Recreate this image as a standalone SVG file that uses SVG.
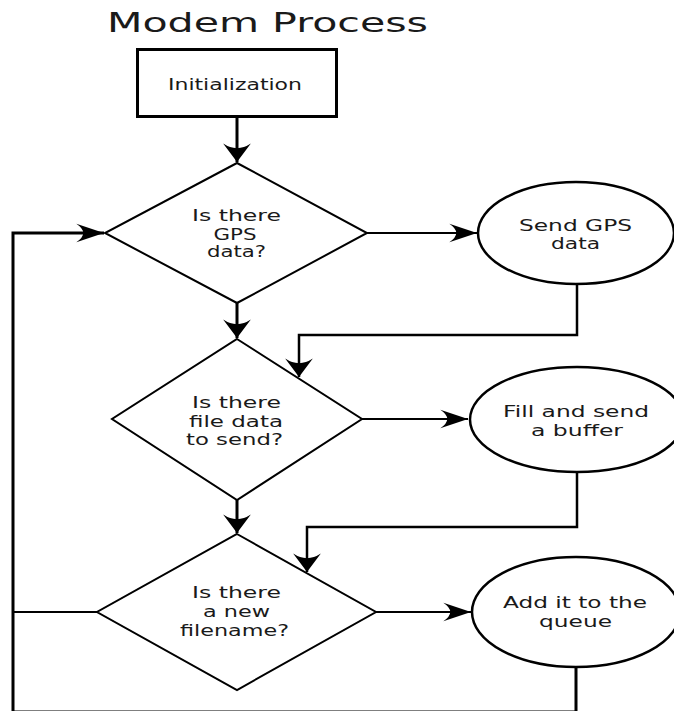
<svg xmlns="http://www.w3.org/2000/svg" width="674" height="711" viewBox="0 0 674 711">
<defs>
<style>
text{font-family:"DejaVu Sans","Liberation Sans",sans-serif;fill:#1a1a1a;text-anchor:middle}
.lbl{font-size:15px}
.title{font-size:26px}
.shape{fill:#fff;stroke:#000}
.conn{fill:none;stroke:#000}
</style>
<marker id="ahV" markerUnits="userSpaceOnUse" markerWidth="30" markerHeight="30" viewBox="-17 -13 18 26" refX="0" refY="0" orient="auto" overflow="visible">
<path d="M0,0 L-16,-12 Q-8,0 -16,12 Z" fill="#000"/>
</marker>
<marker id="ahH" markerUnits="userSpaceOnUse" markerWidth="30" markerHeight="30" viewBox="-25 -9 26 18" refX="0" refY="0" orient="auto" overflow="visible">
<path d="M0,0 L-24,-8 Q-12,0 -24,8 Z" fill="#000"/>
</marker>
</defs>
<rect width="674" height="711" fill="#fff"/>
<text class="title" x="267.5" y="32" textLength="321" lengthAdjust="spacingAndGlyphs">Modem Process</text>

<g id="connectors">
<path class="conn" stroke-width="3" d="M237,117 V162" marker-end="url(#ahV)"/>
<path class="conn" stroke-width="3" d="M237,303 V338" marker-end="url(#ahV)"/>
<path class="conn" stroke-width="3" d="M237,500 V533" marker-end="url(#ahV)"/>
<path class="conn" stroke-width="2" d="M367,233 H477" marker-end="url(#ahH)"/>
<path class="conn" stroke-width="2" d="M362,419 H468" marker-end="url(#ahH)"/>
<path class="conn" stroke-width="2" d="M376,612 H471" marker-end="url(#ahH)"/>
<path class="conn" stroke-width="2.5" d="M577,284 V335 H299 V377" marker-end="url(#ahV)"/>
<path class="conn" stroke-width="2.5" d="M577,472 V527 H307 V572" marker-end="url(#ahV)"/>
<path class="conn" stroke-width="3" d="M576,667 V712 H13 V233 H104" marker-end="url(#ahH)"/>
<path class="conn" stroke-width="2" d="M97,612 H13"/>
</g>

<g id="init">
<rect class="shape" stroke-width="3" x="137.5" y="49.5" width="199" height="67"/>
<text class="lbl" x="235" y="90" textLength="134" lengthAdjust="spacingAndGlyphs">Initialization</text>
</g>

<g id="gps-decision">
<polygon class="shape" stroke-width="2" points="237,163 367,233 237,303 105,233"/>
<text class="lbl" x="236.5" y="221" textLength="89" lengthAdjust="spacingAndGlyphs">Is there</text>
<text class="lbl" x="235" y="240" textLength="43" lengthAdjust="spacingAndGlyphs">GPS</text>
<text class="lbl" x="236.5" y="257" textLength="59" lengthAdjust="spacingAndGlyphs">data?</text>
</g>

<g id="send-gps">
<ellipse class="shape" stroke-width="2.5" cx="576" cy="233" rx="98" ry="51"/>
<text class="lbl" x="575.5" y="231" textLength="113" lengthAdjust="spacingAndGlyphs">Send GPS</text>
<text class="lbl" x="575.5" y="249" textLength="49" lengthAdjust="spacingAndGlyphs">data</text>
</g>

<g id="file-decision">
<polygon class="shape" stroke-width="2" points="237,339 362,419 237,500 112,419"/>
<text class="lbl" x="236.5" y="408" textLength="89" lengthAdjust="spacingAndGlyphs">Is there</text>
<text class="lbl" x="236" y="427" textLength="94" lengthAdjust="spacingAndGlyphs">file data</text>
<text class="lbl" x="234.5" y="445" textLength="97" lengthAdjust="spacingAndGlyphs">to send?</text>
</g>

<g id="fill-buffer">
<ellipse class="shape" stroke-width="2.5" cx="577" cy="419.5" rx="107" ry="52.5"/>
<text class="lbl" x="576" y="417" textLength="146" lengthAdjust="spacingAndGlyphs">Fill and send</text>
<text class="lbl" x="577" y="436" textLength="92" lengthAdjust="spacingAndGlyphs">a buffer</text>
</g>

<g id="filename-decision">
<polygon class="shape" stroke-width="2" points="237,534 376,612 237,690 97,612"/>
<text class="lbl" x="236.5" y="598" textLength="89" lengthAdjust="spacingAndGlyphs">Is there</text>
<text class="lbl" x="236.5" y="617" textLength="67" lengthAdjust="spacingAndGlyphs">a new</text>
<text class="lbl" x="234.5" y="636" textLength="109" lengthAdjust="spacingAndGlyphs">filename?</text>
</g>

<g id="add-queue">
<ellipse class="shape" stroke-width="2.5" cx="576" cy="612" rx="104" ry="55"/>
<text class="lbl" x="575" y="608" textLength="144" lengthAdjust="spacingAndGlyphs">Add it to the</text>
<text class="lbl" x="575.5" y="627" textLength="73" lengthAdjust="spacingAndGlyphs">queue</text>
</g>
</svg>
